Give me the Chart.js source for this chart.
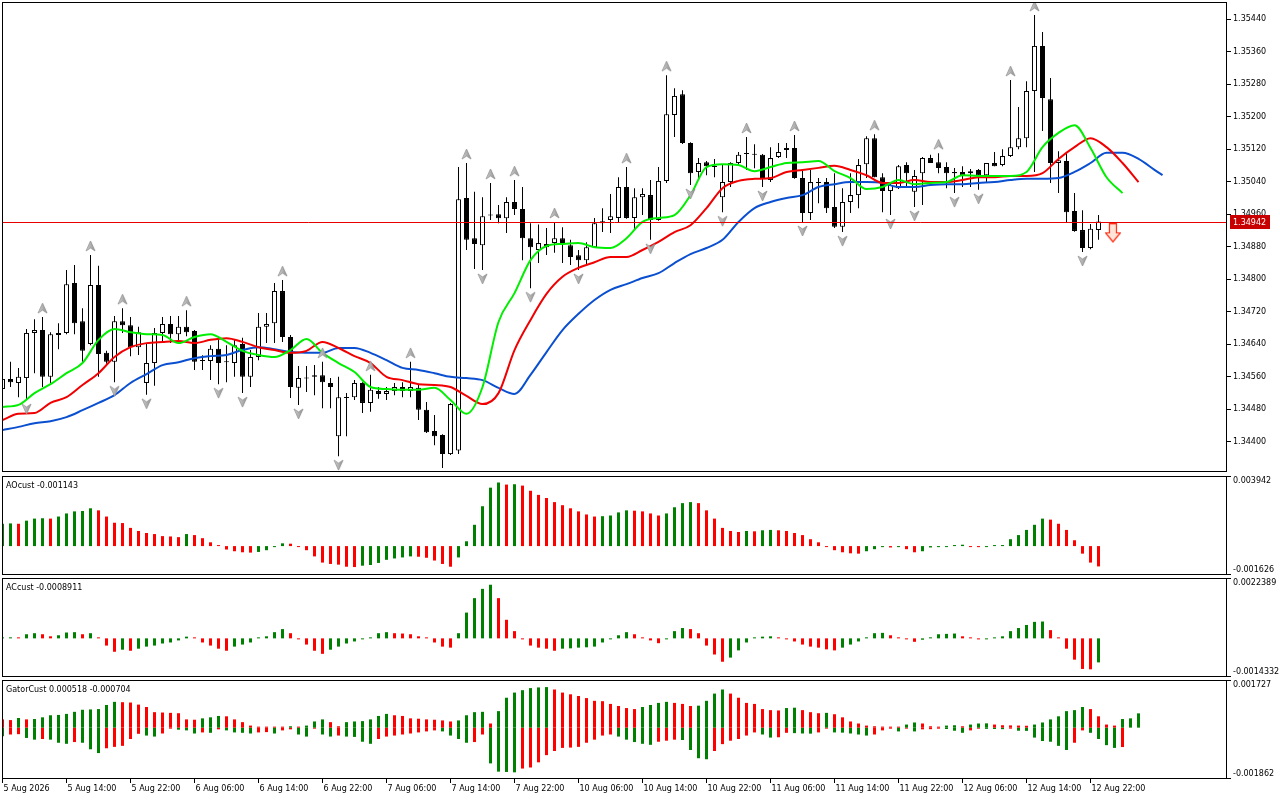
<!DOCTYPE html>
<html>
<head>
<meta charset="utf-8">
<title>H1 chart - Alligator, AO, AC, Gator</title>
<script src="https://cdn.jsdelivr.net/npm/chart.js@4.4.1/dist/chart.umd.min.js"></script>
<style>
    html, body { margin: 0; padding: 0; background: #ffffff; }
    #wrap { position: relative; width: 1280px; height: 800px; overflow: hidden; }
    #wrap canvas { position: absolute; left: 0; top: 0; }
</style>
</head>
<body>
<div id="wrap">
    <canvas id="mainChart" width="1280" height="800"></canvas>
    <canvas id="aoChart" width="1280" height="800"></canvas>
    <canvas id="acChart" width="1280" height="800"></canvas>
    <canvas id="gatorChart" width="1280" height="800"></canvas>
</div>
<script>
/**
 * Chart data (H1 bars, 5 Aug 06:00 .. 12 Aug 23:00)
 */
const opens = [
    1.34530, 1.34555, 1.34545, 1.34557, 1.34668, 1.34675, 1.34560, 1.34668, 1.34668, 1.34791,
    1.34697, 1.34641, 1.34786, 1.34619, 1.34597, 1.34697, 1.34687, 1.34633, 1.34545, 1.34594,
    1.34668, 1.34690, 1.34665, 1.34683, 1.34673, 1.34601, 1.34599, 1.34629, 1.34597, 1.34594,
    1.34641, 1.34560, 1.34609, 1.34683, 1.34692, 1.34771, 1.34658, 1.34533, 1.34557, 1.34560,
    1.34564, 1.34545, 1.34414, 1.34510, 1.34510, 1.34545, 1.34496, 1.34525, 1.34518, 1.34525,
    1.34535, 1.34525, 1.34533, 1.34479, 1.34427, 1.34417, 1.34370, 1.34379, 1.35000, 1.34901,
    1.34884, 1.34958, 1.34960, 1.34950, 1.34990, 1.34973, 1.34901, 1.34872, 1.34887, 1.34889,
    1.34901, 1.34884, 1.34859, 1.34847, 1.34879, 1.34938, 1.34946, 1.34951, 1.35027, 1.34951,
    1.35002, 1.35007, 1.34946, 1.35042, 1.35204, 1.35255, 1.35135, 1.35064, 1.35088, 1.35076,
    1.35002, 1.35039, 1.35086, 1.35108, 1.35108, 1.35106, 1.35044, 1.35101, 1.35118, 1.35123,
    1.35049, 1.34963, 1.35039, 1.35039, 1.34978, 1.34929, 1.34990, 1.35007, 1.35083, 1.35147,
    1.35051, 1.35017, 1.35024, 1.35081, 1.35015, 1.35061, 1.35098, 1.35088, 1.35076, 1.35061,
    1.35064, 1.35061, 1.35069, 1.35056, 1.35086, 1.35081, 1.35103, 1.35125, 1.35147, 1.35263,
    1.35374, 1.35243, 1.35086, 1.35091, 1.34968, 1.34921, 1.34877, 1.34921
];
const highs = [
    1.34562, 1.34597, 1.34582, 1.34678, 1.34702, 1.34707, 1.34670, 1.34692, 1.34823, 1.34835,
    1.34729, 1.34860, 1.34833, 1.34624, 1.34710, 1.34729, 1.34707, 1.34683, 1.34643, 1.34680,
    1.34707, 1.34710, 1.34710, 1.34724, 1.34675, 1.34613, 1.34638, 1.34651, 1.34638, 1.34651,
    1.34656, 1.34626, 1.34717, 1.34717, 1.34791, 1.34798, 1.34663, 1.34587, 1.34587, 1.34589,
    1.34597, 1.34557, 1.34560, 1.34520, 1.34552, 1.34547, 1.34565, 1.34535, 1.34535, 1.34545,
    1.34547, 1.34597, 1.34540, 1.34498, 1.34466, 1.34419, 1.34496, 1.35076, 1.35086, 1.35015,
    1.35002, 1.35037, 1.34983, 1.35002, 1.35044, 1.35027, 1.34938, 1.34935, 1.34926, 1.34941,
    1.34928, 1.34897, 1.34872, 1.34891, 1.34951, 1.34975, 1.35010, 1.35051, 1.35076, 1.35024,
    1.35024, 1.35044, 1.35076, 1.35302, 1.35270, 1.35265, 1.35137, 1.35098, 1.35091, 1.35096,
    1.35081, 1.35088, 1.35113, 1.35150, 1.35132, 1.35108, 1.35125, 1.35135, 1.35135, 1.35155,
    1.35069, 1.35069, 1.35049, 1.35049, 1.35061, 1.35024, 1.35061, 1.35096, 1.35152, 1.35157,
    1.35061, 1.35037, 1.35081, 1.35088, 1.35069, 1.35101, 1.35106, 1.35110, 1.35088, 1.35074,
    1.35078, 1.35071, 1.35071, 1.35086, 1.35113, 1.35120, 1.35290, 1.35224, 1.35287, 1.35450,
    1.35408, 1.35295, 1.35115, 1.35110, 1.35012, 1.34970, 1.34936, 1.34958
];
const lows = [
    1.34523, 1.34535, 1.34510, 1.34503, 1.34569, 1.34535, 1.34545, 1.34628, 1.34665, 1.34665,
    1.34597, 1.34638, 1.34560, 1.34592, 1.34547, 1.34668, 1.34611, 1.34614, 1.34516, 1.34538,
    1.34643, 1.34643, 1.34643, 1.34660, 1.34577, 1.34577, 1.34552, 1.34542, 1.34547, 1.34560,
    1.34520, 1.34535, 1.34601, 1.34643, 1.34643, 1.34646, 1.34508, 1.34491, 1.34523, 1.34515,
    1.34483, 1.34483, 1.34365, 1.34414, 1.34503, 1.34471, 1.34474, 1.34506, 1.34503, 1.34515,
    1.34510, 1.34510, 1.34454, 1.34422, 1.34392, 1.34336, 1.34368, 1.34370, 1.34872, 1.34825,
    1.34823, 1.34946, 1.34938, 1.34914, 1.34958, 1.34847, 1.34778, 1.34840, 1.34860, 1.34865,
    1.34840, 1.34835, 1.34823, 1.34835, 1.34877, 1.34916, 1.34914, 1.34941, 1.34949, 1.34921,
    1.34958, 1.34897, 1.34944, 1.35037, 1.35150, 1.35133, 1.35032, 1.35049, 1.35056, 1.35051,
    1.34965, 1.35027, 1.35081, 1.35069, 1.35073, 1.35027, 1.35039, 1.35098, 1.35098, 1.35047,
    1.34941, 1.34946, 1.34987, 1.34963, 1.34926, 1.34916, 1.34963, 1.34975, 1.35049, 1.35051,
    1.34965, 1.34958, 1.35022, 1.35027, 1.34978, 1.34983, 1.35086, 1.35061, 1.35024, 1.35012,
    1.35027, 1.35027, 1.35020, 1.35039, 1.35078, 1.35078, 1.35101, 1.35120, 1.35125, 1.35064,
    1.35165, 1.35037, 1.35012, 1.34941, 1.34917, 1.34867, 1.34874, 1.34897
];
const closes = [
    1.34555, 1.34547, 1.34560, 1.34668, 1.34675, 1.34560, 1.34665, 1.34663, 1.34788, 1.34692,
    1.34624, 1.34786, 1.34616, 1.34597, 1.34697, 1.34687, 1.34633, 1.34670, 1.34594, 1.34668,
    1.34690, 1.34665, 1.34683, 1.34670, 1.34597, 1.34599, 1.34629, 1.34594, 1.34596, 1.34638,
    1.34560, 1.34609, 1.34683, 1.34690, 1.34771, 1.34658, 1.34535, 1.34557, 1.34556, 1.34564,
    1.34547, 1.34535, 1.34510, 1.34508, 1.34545, 1.34496, 1.34528, 1.34518, 1.34525, 1.34535,
    1.34525, 1.34535, 1.34479, 1.34424, 1.34414, 1.34370, 1.34493, 1.34997, 1.34897, 1.34887,
    1.34955, 1.34957, 1.34950, 1.34990, 1.34973, 1.34901, 1.34879, 1.34889, 1.34879, 1.34901,
    1.34889, 1.34855, 1.34847, 1.34879, 1.34938, 1.34943, 1.34955, 1.35027, 1.34951, 1.35002,
    1.35010, 1.34946, 1.35042, 1.35206, 1.35251, 1.35135, 1.35061, 1.35086, 1.35078, 1.35076,
    1.35039, 1.35086, 1.35106, 1.35110, 1.35106, 1.35049, 1.35098, 1.35113, 1.35123, 1.35049,
    1.34963, 1.35039, 1.35037, 1.34975, 1.34929, 1.34990, 1.35007, 1.35081, 1.35147, 1.35051,
    1.35017, 1.35032, 1.35078, 1.35061, 1.35054, 1.35098, 1.35086, 1.35074, 1.35061, 1.35064,
    1.35056, 1.35066, 1.35056, 1.35086, 1.35078, 1.35103, 1.35125, 1.35147, 1.35263, 1.35374,
    1.35246, 1.35086, 1.35093, 1.34965, 1.34919, 1.34877, 1.34924, 1.34942
];

// Alligator lines, sampled every second bar (shifted forward past the last bar)
const lipsLine = [
    1.34486, 1.34491, 1.34520, 1.34542, 1.34569, 1.34594, 1.34651, 1.34678, 1.34670, 1.34665,
    1.34663, 1.34643, 1.34658, 1.34665, 1.34646, 1.34624, 1.34614, 1.34609, 1.34626, 1.34653,
    1.34619, 1.34594, 1.34572, 1.34535, 1.34530, 1.34528, 1.34528, 1.34533, 1.34503, 1.34469,
    1.34535, 1.34695, 1.34766, 1.34847, 1.34882, 1.34887, 1.34889, 1.34879, 1.34877, 1.34901,
    1.34941, 1.34951, 1.34958, 1.35007, 1.35076, 1.35083, 1.35081, 1.35066, 1.35076, 1.35086,
    1.35088, 1.35091, 1.35066, 1.35049, 1.35022, 1.35027, 1.35044, 1.35034, 1.35037, 1.35039,
    1.35056, 1.35054, 1.35054, 1.35054, 1.35064, 1.35125, 1.35160, 1.35179, 1.35123, 1.35051,
    1.35012
];
const teethLine = [
    1.34454, 1.34469, 1.34471, 1.34496, 1.34510, 1.34540, 1.34569, 1.34609, 1.34633, 1.34643,
    1.34646, 1.34648, 1.34643, 1.34651, 1.34655, 1.34646, 1.34633, 1.34626, 1.34619, 1.34624,
    1.34646, 1.34631, 1.34611, 1.34594, 1.34560, 1.34552, 1.34542, 1.34540, 1.34535, 1.34513,
    1.34493, 1.34520, 1.34626, 1.34700, 1.34764, 1.34806, 1.34828, 1.34842, 1.34855, 1.34855,
    1.34872, 1.34892, 1.34916, 1.34933, 1.34975, 1.35024, 1.35042, 1.35047, 1.35049, 1.35064,
    1.35069, 1.35074, 1.35079, 1.35069, 1.35056, 1.35037, 1.35037, 1.35044, 1.35039, 1.35039,
    1.35044, 1.35051, 1.35051, 1.35054, 1.35054, 1.35061, 1.35096, 1.35125, 1.35147, 1.35125,
    1.35086, 1.35039
];
const jawLine = [
    1.34429, 1.34437, 1.34446, 1.34451, 1.34461, 1.34478, 1.34496, 1.34515, 1.34545, 1.34567,
    1.34589, 1.34596, 1.34606, 1.34611, 1.34614, 1.34626, 1.34633, 1.34628, 1.34621, 1.34619,
    1.34619, 1.34631, 1.34631, 1.34619, 1.34601, 1.34582, 1.34577, 1.34569, 1.34560, 1.34557,
    1.34552, 1.34533, 1.34518, 1.34565, 1.34621, 1.34675, 1.34715, 1.34749, 1.34774, 1.34788,
    1.34803, 1.34815, 1.34840, 1.34862, 1.34877, 1.34897, 1.34941, 1.34975, 1.34990, 1.35000,
    1.35007, 1.35027, 1.35034, 1.35039, 1.35039, 1.35037, 1.35027, 1.35027, 1.35032, 1.35034,
    1.35034, 1.35037, 1.35039, 1.35044, 1.35047, 1.35047, 1.35049, 1.35064, 1.35086, 1.35111,
    1.35111, 1.35096, 1.35069
];
const jawEnd = { bar: 145, value: 1.35056 };

// Fractal bars (arrow above the high / below the low) and the sell signal arrow
const fractalUpBars = [5, 11, 15, 23, 35, 40, 46, 51, 58, 61, 64, 69, 78, 83, 93, 99, 109, 117, 126, 129];
const fractalDownBars = [3, 14, 18, 27, 30, 37, 42, 55, 60, 66, 72, 81, 86, 90, 95, 100, 105, 111, 114, 119, 122, 135];
const signalBars = [138.8];
const signalPrices = [1.34913];

// Awesome Oscillator
const aoValues = [
    0.001256, 0.001276, 0.001256, 0.001430, 0.001546, 0.001566, 0.001546, 0.001662, 0.001836, 0.001952,
    0.001972, 0.002126, 0.002010, 0.001662, 0.001314, 0.001295, 0.001024, 0.000851, 0.000735, 0.000677,
    0.000561, 0.000541, 0.000503, 0.000677, 0.000619, 0.000445, 0.000213, 0.000039, -0.000193, -0.000290,
    -0.000348, -0.000367, -0.000329, -0.000232, -0.000058, 0.000155, 0.000135, -0.000039, -0.000232, -0.000580,
    -0.000928, -0.001005, -0.001044, -0.001160, -0.001179, -0.001102, -0.001063, -0.000947, -0.000773, -0.000696,
    -0.000638, -0.000580, -0.000599, -0.000657, -0.000812, -0.001005, -0.001160, -0.000638, 0.000271, 0.001198,
    0.002242, 0.003286, 0.003576, 0.003460, 0.003479, 0.003402, 0.003112, 0.002880, 0.002706, 0.002474,
    0.002300, 0.002126, 0.001952, 0.001778, 0.001662, 0.001682, 0.001720, 0.001894, 0.002010, 0.001991,
    0.001952, 0.001836, 0.001720, 0.001836, 0.002184, 0.002416, 0.002474, 0.002416, 0.002010, 0.001546,
    0.001024, 0.000851, 0.000793, 0.000851, 0.000831, 0.000889, 0.000909, 0.000889, 0.000851, 0.000735,
    0.000619, 0.000387, 0.000213, -0.000019, -0.000232, -0.000348, -0.000406, -0.000425, -0.000290, -0.000174,
    -0.000058, -0.000077, -0.000058, -0.000174, -0.000348, -0.000290, -0.000077, -0.000058, -0.000039, 0.000058,
    0.000077, -0.000019, -0.000058, -0.000019, 0.000010, 0.000058, 0.000387, 0.000619, 0.000909, 0.001198,
    0.001546, 0.001488, 0.001256, 0.000909, 0.000329, -0.000425, -0.000928, -0.001143
];

// Accelerator Oscillator
const acValues = [
    0.0000128, 0.0000383, 0.0000255, 0.000153, 0.000191, 0.000153, 0.0000765, 0.000115, 0.000217, 0.000230,
    0.000153, 0.000191, 0.0000255, -0.000268, -0.000497, -0.000421, -0.000459, -0.000383, -0.000306, -0.000268,
    -0.000191, -0.000153, -0.0000765, 0.0000638, 0.0000255, -0.000153, -0.000268, -0.000383, -0.000459, -0.000306,
    -0.000230, -0.000153, 0.000003, 0.0000765, 0.000230, 0.000344, 0.000191, -0.0000128, -0.000230, -0.000459,
    -0.000574, -0.000421, -0.000306, -0.000191, -0.000115, -0.0000128, 0.0000128, 0.000191, 0.000230, 0.000191,
    0.000179, 0.000153, 0.0000765, 0.000001, -0.000153, -0.000306, -0.000344, 0.000191, 0.000956, 0.001492,
    0.001836, 0.001989, 0.001492, 0.000689, 0.000268, -0.000005, -0.000268, -0.000344, -0.000383, -0.000459,
    -0.000383, -0.000370, -0.000344, -0.000332, -0.000306, -0.000153, -0.0000128, 0.000115, 0.000230, 0.000153,
    0.000004, -0.0000765, -0.000179, -0.000004, 0.000268, 0.000383, 0.000344, 0.000191, -0.000268, -0.000599,
    -0.000867, -0.000714, -0.000446, -0.000153, 0.000004, 0.0000638, 0.0000765, 0.000004, -0.0000255, -0.000115,
    -0.000230, -0.000306, -0.000344, -0.000408, -0.000446, -0.000344, -0.000230, -0.000115, 0.0000383, 0.000191,
    0.000204, 0.000115, 0.000004, -0.0000128, -0.000128, -0.000051, 0.0000383, 0.000153, 0.000166, 0.000179,
    0.0000765, 0.000004, -0.0000383, -0.0000128, 0.000003, 0.0000765, 0.000268, 0.000383, 0.000497, 0.000612,
    0.000625, 0.000306, 0.000004, -0.000383, -0.000791, -0.001135, -0.001148, -0.0008911
];

// Gator Oscillator: upper |jaw - teeth|, lower -|teeth - lips|
const gatorUpper = [
    0.000299, 0.000274, 0.000349, 0.000299, 0.000312, 0.000374, 0.000449, 0.000461, 0.000498, 0.000573,
    0.000648, 0.000660, 0.000673, 0.000822, 0.000935, 0.000922, 0.000910, 0.000835, 0.000748, 0.000561,
    0.000548, 0.000536, 0.000523, 0.000299, 0.000287, 0.000336, 0.000374, 0.000424, 0.000411, 0.000299,
    0.000199, 0.0000748, 0.0000249, 0.0000187, 0.0000100, 0.0000062, 0.0000498, 0.0000374, 0.0000748, 0.000224,
    0.000299, 0.000199, 0.0000498, 0.000199, 0.000224, 0.000237, 0.000299, 0.000424, 0.000498, 0.000449,
    0.000424, 0.000336, 0.000324, 0.000299, 0.000287, 0.000262, 0.000224, 0.000262, 0.000449, 0.000561,
    0.000573, 0.000150, 0.000598, 0.001084, 0.001271, 0.001358, 0.001433, 0.001458, 0.001470, 0.001383,
    0.001271, 0.001209, 0.001146, 0.001072, 0.000972, 0.000959, 0.000860, 0.000785, 0.000710, 0.000673,
    0.000748, 0.000822, 0.000897, 0.000935, 0.000897, 0.000860, 0.000785, 0.000797, 0.000972, 0.001234,
    0.001383, 0.001234, 0.001084, 0.000897, 0.000860, 0.000673, 0.000635, 0.000623, 0.000710, 0.000723,
    0.000635, 0.000561, 0.000523, 0.000536, 0.000486, 0.000374, 0.000224, 0.000150, 0.0000748, 0.0000498,
    0.0000374, 0.0000249, 0.0000125, 0.000112, 0.000187, 0.000150, 0.0000498, 0.0000125, 0.0000748, 0.0000872,
    0.0000498, 0.000112, 0.000150, 0.000156, 0.000112, 0.0000872, 0.0000810, 0.0000748, 0.0000685, 0.000112,
    0.000187, 0.000299, 0.000411, 0.000598, 0.000635, 0.000748, 0.000673, 0.000411, 0.000112, 0.0000748,
    0.000312, 0.000336, 0.000518
];
const gatorLower = [
    -0.000312, -0.000249, -0.000237, -0.000374, -0.000436, -0.000411, -0.000436, -0.000548, -0.000586, -0.000523,
    -0.000548, -0.000785, -0.000922, -0.000748, -0.000698, -0.000660, -0.000411, -0.000224, -0.000287, -0.000324,
    -0.000212, -0.0000374, -0.0000748, -0.0000997, -0.000212, -0.000174, -0.000187, -0.0000623, -0.0000997, -0.000174,
    -0.000187, -0.000212, -0.000174, -0.000162, -0.000212, -0.0000997, -0.0000623, -0.000249, -0.000324, -0.0000374,
    -0.000249, -0.000324, -0.000287, -0.000324, -0.000336, -0.000511, -0.000586, -0.000411, -0.000324, -0.000287,
    -0.000249, -0.000212, -0.000174, -0.000137, -0.0000997, -0.000137, -0.000287, -0.000411, -0.000548, -0.000523,
    -0.000249, -0.001296, -0.001595, -0.001607, -0.001620, -0.001483, -0.001445, -0.001258, -0.000997, -0.000847,
    -0.000735, -0.000723, -0.000698, -0.000548, -0.000436, -0.000287, -0.000249, -0.000324, -0.000436, -0.000523,
    -0.000586, -0.000623, -0.000511, -0.000473, -0.000436, -0.000449, -0.000810, -0.001109, -0.001146, -0.000847,
    -0.000598, -0.000473, -0.000411, -0.000287, -0.000174, -0.000249, -0.000361, -0.000349, -0.000187, -0.000199,
    -0.000212, -0.000218, -0.000174, -0.0000125, -0.000174, -0.000181, -0.000212, -0.000249, -0.000287, -0.000249,
    -0.0000997, -0.0000374, -0.000137, -0.0000249, -0.000137, -0.0000623, -0.0000561, -0.0000374, -0.0000498, -0.000112,
    -0.000187, -0.0000997, -0.0000374, -0.0000436, -0.0000498, -0.0000561, -0.0000374, -0.000112, -0.000118, -0.000361,
    -0.000486, -0.000511, -0.000660, -0.000810, -0.000548, -0.0000997, -0.000187, -0.000411, -0.000635, -0.000735,
    -0.000704
];

// Axis ranges and tick labels
const priceRange = [1.34326, 1.35482];
const priceTicks = [1.3440, 1.3448, 1.3456, 1.3464, 1.3472, 1.3480, 1.3488, 1.3496,
                    1.3504, 1.3512, 1.3520, 1.3528, 1.3536, 1.3544];
const aoRange = [-0.001626, 0.003942];
const acRange = [-0.0014332, 0.0022389];
const gatorRange = [-0.001862, 0.001727];
const timeBars = [0, 8, 16, 24, 32, 40, 48, 56, 64, 72, 80, 88, 96, 104, 112, 120, 128, 136];
const timeLabels = [
    '5 Aug 2026', '5 Aug 14:00', '5 Aug 22:00', '6 Aug 06:00', '6 Aug 14:00', '6 Aug 22:00',
    '7 Aug 06:00', '7 Aug 14:00', '7 Aug 22:00', '10 Aug 06:00', '10 Aug 14:00', '10 Aug 22:00',
    '11 Aug 06:00', '11 Aug 14:00', '11 Aug 22:00', '12 Aug 06:00', '12 Aug 14:00', '12 Aug 22:00'
];

// Layout / style constants
const VIEW_MIN = -0.0625;
const VIEW_MAX = 153.06;
const AXIS_WIDTH = 53;
const TIME_AXIS_HEIGHT = 21;
const FONT_FAMILY = 'DejaVu Sans';
const TEXT_FONT = { family: FONT_FAMILY, size: 8 };
const UP_COLOR = '#008000';
const DOWN_COLOR = '#ff0000';

/**
 * Frame, legends, range labels and price marker for each panel
 */
const panelDecor = {
    id: 'panelDecor',
    afterDatasetsDraw(chart, args, opts) {
        if (opts.lastPrice === undefined || opts.lastPrice === null) return;
        const { ctx, chartArea: a } = chart;
        const y = Math.round(chart.scales.y.getPixelForValue(opts.lastPrice)) + 0.5;
        ctx.save();
        ctx.strokeStyle = '#e60000';
        ctx.lineWidth = 1;
        ctx.beginPath();
        ctx.moveTo(a.left, y);
        ctx.lineTo(a.right, y);
        ctx.stroke();
        ctx.restore();
    },
    afterDraw(chart, args, opts) {
        const { ctx, chartArea: a } = chart;
        ctx.save();
        ctx.strokeStyle = '#000000';
        ctx.lineWidth = 1;
        ctx.strokeRect(a.left + 0.5, a.top + 0.5, a.right - a.left - 1, a.bottom - a.top - 1);

        ctx.font = `8px "${FONT_FAMILY}"`;
        ctx.fillStyle = '#000000';
        ctx.textAlign = 'left';

        if (opts.legend) {
            ctx.textBaseline = 'alphabetic';
            ctx.fillText(opts.legend, a.left + 4, a.top + 11.5);
        }

        if (opts.rangeLabels) {
            ctx.textBaseline = 'middle';
            ctx.fillText(opts.rangeLabels[0], a.right + 6, a.top + 5);
            ctx.fillText(opts.rangeLabels[1], a.right + 6, a.bottom - 5);
            ctx.beginPath();
            ctx.moveTo(a.right, a.top + 0.5);
            ctx.lineTo(a.right + 4, a.top + 0.5);
            ctx.moveTo(a.right, a.bottom - 0.5);
            ctx.lineTo(a.right + 4, a.bottom - 0.5);
            ctx.stroke();
        }

        if (opts.lastPrice !== undefined && opts.lastPrice !== null) {
            const y = Math.round(chart.scales.y.getPixelForValue(opts.lastPrice));
            ctx.fillStyle = '#c80000';
            ctx.fillRect(a.right + 3, y - 7, 40, 14);
            ctx.fillStyle = '#ffffff';
            ctx.textBaseline = 'middle';
            ctx.fillText(opts.lastPrice.toFixed(5), a.right + 6, y + 0.5);
        }
        ctx.restore();
    }
};

/**
 * Small canvases used as point styles (fractal arrows, signal arrow)
 */
function makeFractalIcon(up) {
    const c = document.createElement('canvas');
    c.width = 11;
    c.height = 30;
    const g = c.getContext('2d');
    const t = up ? 1 : 19;
    g.beginPath();
    if (up) {
        g.moveTo(5.5, t);
        g.lineTo(10, t + 10);
        g.lineTo(5.5, t + 7);
        g.lineTo(1, t + 10);
    } else {
        g.moveTo(5.5, t + 10);
        g.lineTo(10, t);
        g.lineTo(5.5, t + 3);
        g.lineTo(1, t);
    }
    g.closePath();
    const grad = g.createLinearGradient(0, 0, 11, 0);
    grad.addColorStop(0, '#d8d8d8');
    grad.addColorStop(1, '#8a8a8a');
    g.fillStyle = grad;
    g.fill();
    g.strokeStyle = '#909090';
    g.lineWidth = 0.8;
    g.stroke();
    return c;
}

function makeSignalIcon() {
    const c = document.createElement('canvas');
    c.width = 16;
    c.height = 20;
    const g = c.getContext('2d');
    g.beginPath();
    g.moveTo(4.5, 0.5);
    g.lineTo(11.5, 0.5);
    g.lineTo(11.5, 9.5);
    g.lineTo(15.5, 9.5);
    g.lineTo(8, 18.5);
    g.lineTo(0.5, 9.5);
    g.lineTo(4.5, 9.5);
    g.closePath();
    g.fillStyle = '#ffe4d8';
    g.fill();
    g.strokeStyle = '#ff2a10';
    g.lineWidth = 1.2;
    g.stroke();
    return c;
}

/**
 * MT4 style histogram colouring: green when the bar grows, red otherwise
 */
function risingColors(values, useMagnitude, firstRising) {
    return values.map((v, i) => {
        if (i === 0) return firstRising ? UP_COLOR : DOWN_COLOR;
        const cur = useMagnitude ? Math.abs(v) : v;
        const prev = useMagnitude ? Math.abs(values[i - 1]) : values[i - 1];
        return cur > prev ? UP_COLOR : DOWN_COLOR;
    });
}

function histogramDataset(label, values, colors) {
    return {
        type: 'bar',
        label: label,
        data: values.map((v, i) => ({ x: i, y: v })),
        backgroundColor: colors,
        borderWidth: 0,
        barThickness: 3,
        grouped: false,
        minBarLength: 1,
        inflateAmount: 0
    };
}

function sampledPoints(values) {
    return values.map((v, k) => ({ x: k * 2, y: v }));
}

/**
 * Shared time axis (labels only on the bottom panel)
 */
function timeAxis(showLabels) {
    return {
        type: 'linear',
        min: VIEW_MIN,
        max: VIEW_MAX,
        offset: false,
        display: showLabels,
        border: { display: false },
        grid: { display: true, drawOnChartArea: false, offset: false, tickLength: 4, color: '#000000' },
        afterBuildTicks: scale => { scale.ticks = timeBars.map(v => ({ value: v })); },
        afterFit: scale => {
            scale.height = showLabels ? TIME_AXIS_HEIGHT : 0;
            scale.paddingLeft = 0;
            scale.paddingRight = 0;
        },
        ticks: {
            autoSkip: false,
            maxRotation: 0,
            minRotation: 0,
            align: 'start',
            padding: 1,
            labelOffset: 1,
            color: '#000000',
            font: TEXT_FONT,
            callback: (value, index) => timeLabels[index]
        }
    };
}

function baseOptions(padding) {
    return {
        responsive: false,
        animation: false,
        devicePixelRatio: 1,
        events: [],
        layout: { padding: padding, autoPadding: false },
        plugins: {
            legend: { display: false },
            tooltip: { enabled: false }
        }
    };
}

/**
 * Main price panel: candles, Alligator, fractals
 */
function createPriceChart() {
    const bars = opens.map((_, i) => i);
    const wickData = bars.map(i => ({ x: i, y: [lows[i], highs[i]] }));
    const bodyData = bars.map(i => ({ x: i, y: [opens[i], closes[i]] }));
    const bodyFill = bars.map(i => (closes[i] >= opens[i] ? '#ffffff' : '#000000'));
    const jawPoints = sampledPoints(jawLine).concat([{ x: jawEnd.bar, y: jawEnd.value }]);

    const options = baseOptions({ top: 2, bottom: 328, left: 2, right: 0 });
    options.plugins.panelDecor = { lastPrice: closes[closes.length - 1] };
    options.scales = {
        x: timeAxis(false),
        y: {
            type: 'linear',
            position: 'right',
            min: priceRange[0],
            max: priceRange[1],
            border: { display: false },
            grid: { drawOnChartArea: false, tickLength: 4, color: '#000000' },
            afterBuildTicks: scale => { scale.ticks = priceTicks.map(v => ({ value: v })); },
            afterFit: scale => {
                scale.width = AXIS_WIDTH;
                scale.paddingTop = 0;
                scale.paddingBottom = 0;
            },
            ticks: {
                autoSkip: false,
                padding: 2,
                color: '#000000',
                font: TEXT_FONT,
                callback: v => v.toFixed(5)
            }
        }
    };

    return new Chart(document.getElementById('mainChart'), {
        type: 'bar',
        data: {
            datasets: [
                {
                    type: 'line', label: 'Fractals up',
                    data: fractalUpBars.map(i => ({ x: i, y: highs[i] })),
                    showLine: false, pointStyle: makeFractalIcon(true), pointRadius: 5, order: 0
                },
                {
                    type: 'line', label: 'Fractals down',
                    data: fractalDownBars.map(i => ({ x: i, y: lows[i] })),
                    showLine: false, pointStyle: makeFractalIcon(false), pointRadius: 5, order: 0
                },
                {
                    type: 'line', label: 'Signal',
                    data: signalBars.map((b, k) => ({ x: b, y: signalPrices[k] })),
                    showLine: false, pointStyle: makeSignalIcon(), pointRadius: 5, order: 0
                },
                {
                    type: 'line', label: 'Lips', data: sampledPoints(lipsLine),
                    borderColor: '#00ee00', borderWidth: 2, pointRadius: 0,
                    cubicInterpolationMode: 'monotone', order: 1
                },
                {
                    type: 'line', label: 'Teeth', data: sampledPoints(teethLine),
                    borderColor: '#f00000', borderWidth: 2, pointRadius: 0,
                    cubicInterpolationMode: 'monotone', order: 2
                },
                {
                    type: 'line', label: 'Jaw', data: jawPoints,
                    borderColor: '#0a4fd0', borderWidth: 2, pointRadius: 0,
                    cubicInterpolationMode: 'monotone', order: 3
                },
                {
                    type: 'bar', label: 'Bodies', data: bodyData,
                    backgroundColor: bodyFill, borderColor: '#000000', borderWidth: 1,
                    borderSkipped: false, barThickness: 5, grouped: false,
                    minBarLength: 1, inflateAmount: 0, order: 4
                },
                {
                    type: 'bar', label: 'Wicks', data: wickData,
                    backgroundColor: '#000000', borderWidth: 0, barThickness: 1,
                    grouped: false, minBarLength: 1, inflateAmount: 0, order: 5
                }
            ]
        },
        options: options,
        plugins: [panelDecor]
    });
}

/**
 * Indicator sub-window
 */
function createIndicatorChart(canvasId, datasets, range, decimals, legend, padding, showTime) {
    const options = baseOptions(padding);
    options.plugins.panelDecor = {
        legend: legend,
        rangeLabels: [range[1].toFixed(decimals), range[0].toFixed(decimals)]
    };
    options.scales = {
        x: timeAxis(showTime),
        y: { type: 'linear', display: false, min: range[0], max: range[1] }
    };
    return new Chart(document.getElementById(canvasId), {
        type: 'bar',
        data: { datasets: datasets },
        options: options,
        plugins: [panelDecor]
    });
}

createPriceChart();

createIndicatorChart(
    'aoChart',
    [histogramDataset('AO', aoValues, risingColors(aoValues, false, true))],
    aoRange, 6,
    'AOcust ' + aoValues[aoValues.length - 1].toFixed(6),
    { top: 476, bottom: 225, left: 2, right: AXIS_WIDTH },
    false
);

createIndicatorChart(
    'acChart',
    [histogramDataset('AC', acValues, risingColors(acValues, false, true))],
    acRange, 7,
    'ACcust ' + acValues[acValues.length - 1].toFixed(7),
    { top: 578, bottom: 123, left: 2, right: AXIS_WIDTH },
    false
);

createIndicatorChart(
    'gatorChart',
    [
        histogramDataset('Gator up', gatorUpper, risingColors(gatorUpper, true, false)),
        histogramDataset('Gator down', gatorLower, risingColors(gatorLower, true, true))
    ],
    gatorRange, 6,
    'GatorCust ' + gatorUpper[gatorUpper.length - 1].toFixed(6) + ' ' + gatorLower[gatorLower.length - 1].toFixed(6),
    { top: 680, bottom: 0, left: 2, right: AXIS_WIDTH },
    true
);
</script>
</body>
</html>
